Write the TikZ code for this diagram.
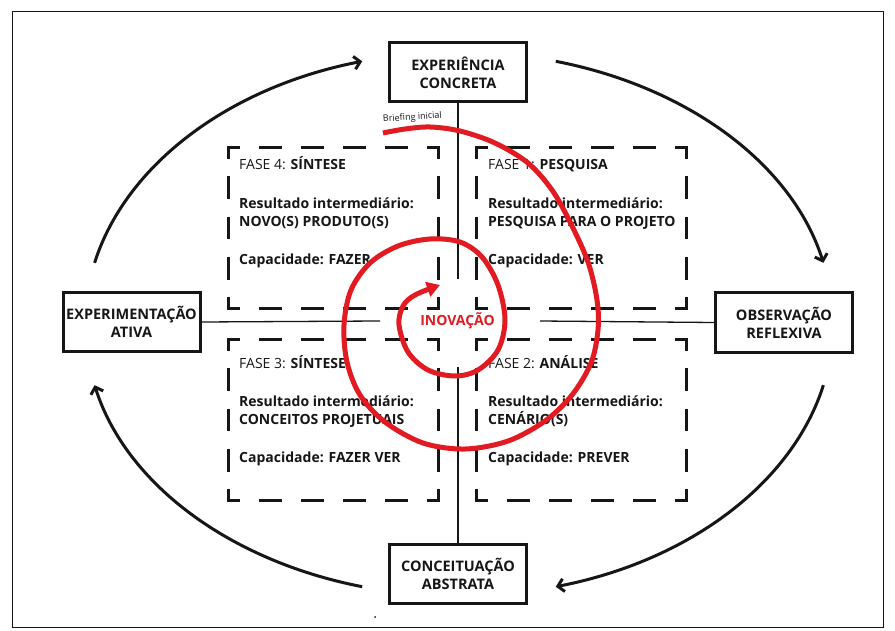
\documentclass[tikz,border=0pt]{standalone}
\usepackage{fontspec}
\setmainfont{Open Sans}
\usetikzlibrary{arrows.meta}
\definecolor{spred}{RGB}{226,27,35}
\definecolor{ink}{RGB}{22,22,22}
\tikzset{
  stage/.style={draw=ink, line width=3pt, minimum width=137pt, minimum height=59pt,
    align=center, inner sep=0pt, text=ink, font=\bfseries\fontsize{14.5}{18}\selectfont},
  ptext/.style={anchor=base west, inner sep=0pt, text=ink, font=\fontsize{14}{16}\selectfont},
  hdash/.style={draw=ink, line width=3pt, line cap=rect, dash pattern=on 20.5pt off 21.5pt, dash phase=10.25pt},
  vdash/.style={draw=ink, line width=3pt, line cap=rect, dash pattern=on 19.6pt off 20.65pt, dash phase=9.8pt},
  axisline/.style={draw=ink, line width=1.3pt},
  cycle arrow/.style={draw=ink, line width=3pt, -{Straight Barb[length=6pt,width=13pt]}},
  spiral/.style={draw=spred, line width=5pt, -{Triangle[length=13pt,width=15pt]}},
}
\newcommand\phasebox[2]{%
  \draw[hdash] ({#1},{#2}) -- ({#1+210},{#2});
  \draw[hdash] ({#1},{#2+161}) -- ({#1+210},{#2+161});
  \draw[vdash] ({#1},{#2}) -- ({#1},{#2+161});
  \draw[vdash] ({#1+210},{#2}) -- ({#1+210},{#2+161});
}
\begin{document}
\begin{tikzpicture}[x=1pt, y=-1pt]
\useasboundingbox (0,0) rectangle (895,631);
\fill[white] (0,0) rectangle (895,631);
\draw[ink, line width=1pt] (12,12) rectangle (883,627);

% stage boxes
\node[stage] (ce) at (458,72.5) {EXPERIÊNCIA\\CONCRETA};
\node[stage] (ea) at (131.5,322) {EXPERIMENTAÇÃO\\ATIVA};
\node[stage] (or) at (784,322.5) {OBSERVAÇÃO\\REFLEXIVA};
\node[stage] (ca) at (458,574) {CONCEITUAÇÃO\\ABSTRATA};

% axis lines
\coordinate (vt) at (458,279);
\coordinate (vb) at (458,367);
\coordinate (hl) at (380,321);
\coordinate (hr) at (540,321);
\draw[axisline] (ce.south) -- (vt);
\draw[axisline] (vb) -- (ca.north);
\draw[axisline] (ea.east) -- (hl);
\draw[axisline] (hr) -- (or.west);

% phase boxes
\phasebox{228.5}{147.5}
\phasebox{476.5}{147.5}
\phasebox{228.5}{339.5}
\phasebox{476.5}{339.5}

% phase texts
\node[ptext] (f4a) at (239,170) {FASE 4: \textbf{SÍNTESE}};
\node[ptext] (f4b) at (239,209) {\textbf{Resultado intermediário:}};
\node[ptext] (f4c) at (239,227) {\textbf{NOVO(S) PRODUTO(S)}};
\node[ptext] (f4d) at (239,265) {\textbf{Capacidade: FAZER}};

\node[ptext] (f1a) at (488,170) {FASE 1: \textbf{PESQUISA}};
\node[ptext] (f1b) at (488,209) {\textbf{Resultado intermediário:}};
\node[ptext] (f1c) at (488,227) {\textbf{PESQUISA PARA O PROJETO}};
\node[ptext] (f1d) at (488,265) {\textbf{Capacidade: VER}};

\node[ptext] (f3a) at (239,368) {FASE 3: \textbf{SÍNTESE}};
\node[ptext] (f3b) at (239,406) {\textbf{Resultado intermediário:}};
\node[ptext] (f3c) at (239,424) {\textbf{CONCEITOS PROJETUAIS}};
\node[ptext] (f3d) at (239,462) {\textbf{Capacidade: FAZER VER}};

\node[ptext] (f2a) at (488,368) {FASE 2: \textbf{ANÁLISE}};
\node[ptext] (f2b) at (488,406) {\textbf{Resultado intermediário:}};
\node[ptext] (f2c) at (488,424) {\textbf{CENÁRIO(S)}};
\node[ptext] (f2d) at (488,462) {\textbf{Capacidade: PREVER}};

% outer cycle arrows
\coordinate (tlS) at (94.6,262.8);
\coordinate (tlE) at (362.2,61.3);
\coordinate (trS) at (555.8,61.3);
\coordinate (trE) at (823.4,262.8);
\coordinate (brS) at (823.4,385.2);
\coordinate (brE) at (555.8,586.7);
\coordinate (blS) at (362.2,586.7);
\coordinate (blE) at (94.6,385.2);
\draw[cycle arrow] (tlS) .. controls (125.7,164.8) and (228.7,87.3) .. (tlE);
\draw[cycle arrow] (trS) .. controls (689.3,87.3) and (792.3,164.8) .. (trE);
\draw[cycle arrow] (brS) .. controls (792.3,483.2) and (689.3,560.7) .. (brE);
\draw[cycle arrow] (blS) .. controls (228.7,560.7) and (125.7,483.2) .. (blE);

% spiral
\draw[spiral] plot[smooth, tension=0.55] coordinates {
 (383,133) (405,129) (430,127) (460,131) (495,143) (528,163) (552,190) (570,222)
 (588,262) (597,300) (598,330) (591,363) (572,395) (545,421) (508,441) (465,449)
 (423,443) (385,422) (360,395) (347,362) (344,325) (351,290) (370,263) (398,246)
 (430,239) (460,242) (482,257) (498,285) (505,320) (498,350) (478,370) (455,376)
 (428,370) (408,352) (399,325) (403,306) (415,295) (440,285)};

\node[anchor=base west, inner sep=0pt, rotate=4, text=ink, font=\fontsize{9}{10}\selectfont] (brief) at (383,122) {Briefing inicial};
\node[text=spred, inner sep=0pt, font=\bfseries\fontsize{14}{16}\selectfont] (inov) at (457.5,321) {INOVAÇÃO};

\fill[ink] (375,617) circle (1pt);
\end{tikzpicture}
\end{document}
